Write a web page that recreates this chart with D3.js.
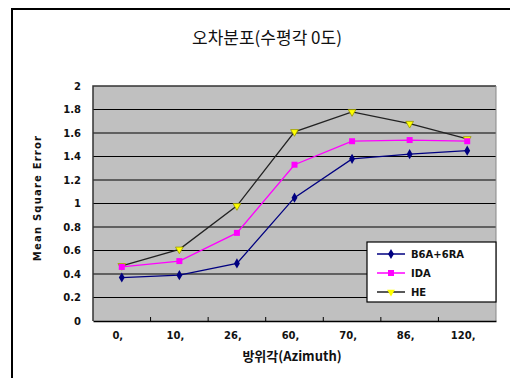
<!DOCTYPE html>
<html><head><meta charset="utf-8">
<script src="https://cdn.jsdelivr.net/npm/d3@7"></script>
<style>body{margin:0;background:#fff}svg{display:block}</style>
</head><body>
<script>
const categories = ["0,", "10,", "26,", "60,", "70,", "86,", "120,"];
const seriesNames = ["B6A+6RA", "IDA", "HE"];
const b6a = [0.37, 0.39, 0.49, 1.05, 1.38, 1.42, 1.45];
const ida = [0.46, 0.51, 0.75, 1.33, 1.53, 1.54, 1.53];
const he = [0.47, 0.61, 0.98, 1.61, 1.78, 1.68, 1.55];
const yTicks = [0, 0.2, 0.4, 0.6, 0.8, 1, 1.2, 1.4, 1.6, 1.8, 2];

const W = 510, H = 378;
const svg = d3.select("body").append("svg").attr("width", W).attr("height", H);
svg.append("rect").attr("width", W).attr("height", H).attr("fill", "#fff");
svg.append("rect").attr("x", 12).attr("y", 9).attr("width", 520).attr("height", 400)
  .attr("fill", "none").attr("stroke", "#000").attr("stroke-width", 2);

const L = 93, R = 496, T = 86, B = 321;
const x = d3.scaleBand().domain(categories).range([L, R]);
const y = d3.scaleLinear().domain([0, 2]).range([B, T]);

svg.append("rect").attr("x", L).attr("y", T).attr("width", R - L).attr("height", B - T)
  .attr("fill", "#c0c0c0");
svg.append("g").selectAll("line").data(yTicks.slice(1, -1)).join("line")
  .attr("x1", L).attr("x2", R).attr("y1", d => y(d)).attr("y2", d => y(d))
  .attr("stroke", "#000").attr("stroke-width", 1);
svg.append("path").attr("d", `M${L},${B}V${T}H${R}`).attr("fill", "none").attr("stroke", "#333").attr("stroke-width", 1.5);
svg.append("path").attr("d", `M${R},${T}V${B}`).attr("fill", "none").attr("stroke", "#888").attr("stroke-width", 1);

const xAxis = svg.append("g").attr("transform", `translate(0,${B})`)
  .call(d3.axisBottom(x).tickSize(0).tickPadding(11).tickFormat(d => d));
xAxis.select(".domain").attr("stroke", "#000").attr("stroke-width", 1.5);
xAxis.selectAll("text").attr("font-family", "DejaVu Sans").attr("font-weight", "bold")
  .attr("font-size", 10).attr("fill", "#111").attr("dx", -4);
svg.append("g").selectAll("line").data(categories.slice(1)).join("line")
  .attr("x1", d => x(d)).attr("x2", d => x(d)).attr("y1", B).attr("y2", B - 4)
  .attr("stroke", "#000");

const yAxis = svg.append("g").attr("transform", `translate(${L},0)`)
  .call(d3.axisLeft(y).tickValues(yTicks).tickSize(0).tickPadding(12).tickFormat(d => d));
yAxis.select(".domain").remove();
yAxis.selectAll("text").attr("font-family", "DejaVu Sans").attr("font-weight", "bold")
  .attr("font-size", 10).attr("fill", "#111");

svg.append("text").attr("x", 267).attr("y", 44).attr("text-anchor", "middle")
  .attr("font-family", "Noto Sans CJK KR").attr("font-size", 17).attr("fill", "#111")
  .text("오차분포(수평각 0도)");
svg.append("text").attr("transform", "translate(41,198) rotate(-90)").attr("text-anchor", "middle")
  .attr("font-family", "DejaVu Sans").attr("font-weight", "bold").attr("font-size", 10)
  .attr("letter-spacing", 1.2).attr("fill", "#111")
  .text("Mean Square Error");
svg.append("text").attr("x", 292).attr("y", 361).attr("text-anchor", "middle")
  .attr("font-family", "Noto Sans CJK KR").attr("font-weight", "bold").attr("font-size", 13).attr("fill", "#111")
  .text("방위각(Azimuth)");

const cx = d => x(d) + x.bandwidth() / 2;
const series = [
  {name: seriesNames[0], vals: b6a, line: "#000080", fill: "#000080", shape: d3.symbolDiamond, size: 30},
  {name: seriesNames[1], vals: ida, line: "#ff00ff", fill: "#ff00ff", shape: d3.symbolSquare, size: 36},
  {name: seriesNames[2], vals: he, line: "#222", fill: "#ffff00", shape: d3.symbolTriangle, size: 26}
];
const lineGen = d3.line().x((d, i) => cx(categories[i])).y(d => y(d));
series.slice().reverse().forEach(s => {
  svg.append("path").attr("d", lineGen(s.vals)).attr("fill", "none")
    .attr("stroke", s.line).attr("stroke-width", 1.3);
  svg.append("g").selectAll("path").data(s.vals).join("path")
    .attr("transform", (d, i) => `translate(${cx(categories[i])},${y(d)})${s.shape === d3.symbolTriangle ? " rotate(180)" : ""}`)
    .attr("d", d3.symbol(s.shape, s.size)).attr("fill", s.fill)
    .attr("stroke", s.shape === d3.symbolTriangle ? "#999900" : "none").attr("stroke-width", 0.8);
});

const lg = svg.append("g").attr("transform", "translate(367,242)");
lg.append("rect").attr("width", 129).attr("height", 60).attr("fill", "#fff").attr("stroke", "#000").attr("stroke-width", 1.2);
series.forEach((s, i) => {
  const yy = 12 + i * 19;
  lg.append("line").attr("x1", 10).attr("x2", 38).attr("y1", yy).attr("y2", yy)
    .attr("stroke", s.line).attr("stroke-width", 1.5);
  lg.append("path").attr("transform", `translate(24,${yy})${s.shape === d3.symbolTriangle ? " rotate(180)" : ""}`)
    .attr("d", d3.symbol(s.shape, s.size)).attr("fill", s.fill);
  lg.append("text").attr("x", 44).attr("y", yy + 4).attr("font-family", "DejaVu Sans")
    .attr("font-weight", "bold").attr("font-size", 10).attr("fill", "#111").text(s.name);
});
</script>
</body></html>
